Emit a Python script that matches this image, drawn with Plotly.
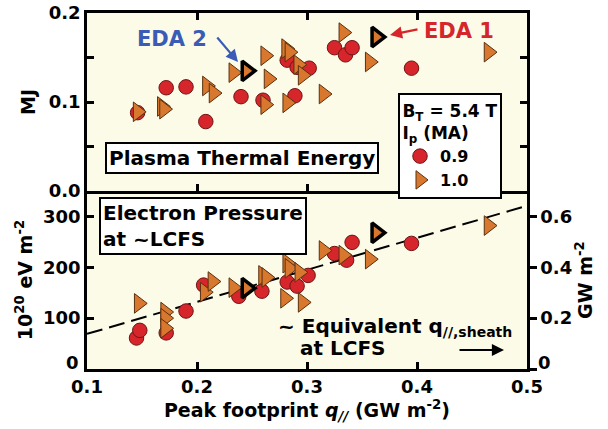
import plotly.graph_objects as go
from plotly.subplots import make_subplots

# Peak footprint q// (GW m^-2) vs plasma thermal energy (MJ)
q_mj_09 = [0.146, 0.172, 0.190, 0.208, 0.240, 0.260, 0.282, 0.289, 0.291, 0.302, 0.325, 0.335, 0.341, 0.395]
mj_09 = [0.088, 0.116, 0.117, 0.078, 0.106, 0.102, 0.147, 0.107, 0.139, 0.138, 0.161, 0.153, 0.161, 0.138]
q_mj_10 = [0.146, 0.168, 0.170, 0.209, 0.215, 0.233, 0.262, 0.265, 0.262, 0.282, 0.281, 0.284,
           0.292, 0.296, 0.315, 0.333, 0.357, 0.465]
mj_10 = [0.089, 0.095, 0.092, 0.118, 0.110, 0.133, 0.152, 0.126, 0.097, 0.099, 0.160, 0.156,
         0.142, 0.130, 0.109, 0.178, 0.145, 0.156]

# Peak footprint q// vs electron pressure at ~LCFS (1e20 eV m^-2)
q_pe_09 = [0.145, 0.148, 0.172, 0.190, 0.206, 0.238, 0.259, 0.282, 0.291, 0.301, 0.325, 0.336, 0.341, 0.395]
pe_09 = [61, 76, 71, 114, 165, 143, 153, 171, 163, 184, 227, 214, 249, 247]
q_pe_10 = [0.147, 0.171, 0.171, 0.171, 0.207, 0.214, 0.233, 0.260, 0.263, 0.282, 0.284, 0.293,
           0.280, 0.296, 0.315, 0.333, 0.357, 0.465]
pe_10 = [129, 112, 100, 80, 151, 172, 160, 184, 180, 208, 198, 190, 139, 131, 233, 224, 216, 282]

# EDA H-mode discharges (1.0 MA)
eda_labels = ["EDA 2", "EDA 1"]
eda_q = [0.245, 0.363]
eda_mj = [0.135, 0.173]
eda_pe = [159, 268]

# Linear trend of pressure with q//
fit_intercept = 6.0
fit_slope = 630.0
fit_q = [0.1, 0.5]

# Pressure units per GW m^-2 on the right-hand axis
PE_PER_GW = 500.0

x_ticks = [0.1, 0.2, 0.3, 0.4, 0.5]
mj_ticks = [0.0, 0.05, 0.1, 0.15, 0.2]
mj_tick_text = ["0.0", "", "0.1", "", "0.2"]
pe_ticks = [0, 100, 200, 300]
pe_tick_text = ["", "100", "200", "300"]   # zero label is set slightly higher, below
gw_ticks = [0, 0.2, 0.4, 0.6]
gw_tick_text = ["", "0.2", "0.4", "0.6"]

RED = "#d6262c"
RED_EDGE = "#6e1414"
ORANGE = "#d8782e"
ORANGE_EDGE = "#5a3010"
BLUE = "#3a5cb6"
BG = "#fbfbe8"
FONT = "DejaVu Sans, Verdana, sans-serif"

fig = make_subplots(rows=2, cols=1, shared_xaxes=True, vertical_spacing=0,
                    specs=[[{}], [{"secondary_y": True}]])

circle = dict(symbol="circle", size=14.5, color=RED, line=dict(color=RED_EDGE, width=1))
tri = dict(symbol="triangle-right", size=17, color=ORANGE, line=dict(color=ORANGE_EDGE, width=1))
tri_eda = dict(symbol="triangle-right", size=17, color=ORANGE, line=dict(color="black", width=3.5))

# top panel
fig.add_trace(go.Scatter(x=q_mj_09, y=mj_09, mode="markers", marker=circle, name="0.9"),
              row=1, col=1)
fig.add_trace(go.Scatter(x=q_mj_10, y=mj_10, mode="markers", marker=tri, name="1.0"),
              row=1, col=1)
fig.add_trace(go.Scatter(x=eda_q, y=eda_mj, mode="markers", marker=tri_eda, showlegend=False,
                         text=eda_labels), row=1, col=1)

# bottom panel
fit_pe = [fit_intercept + fit_slope * q for q in fit_q]
fig.add_trace(go.Scatter(x=fit_q, y=fit_pe, mode="lines", showlegend=False,
                         line=dict(color="black", width=2, dash="16px,7px")),
              row=2, col=1, secondary_y=False)
fig.add_trace(go.Scatter(x=q_pe_09, y=pe_09, mode="markers", marker=circle, showlegend=False),
              row=2, col=1, secondary_y=False)
fig.add_trace(go.Scatter(x=q_pe_10, y=pe_10, mode="markers", marker=tri, showlegend=False),
              row=2, col=1, secondary_y=False)
fig.add_trace(go.Scatter(x=eda_q, y=eda_pe, mode="markers", marker=tri_eda, showlegend=False,
                         text=eda_labels), row=2, col=1, secondary_y=False)
# same trend expressed as equivalent sheath heat flux (GW m^-2) on the right axis
fig.add_trace(go.Scatter(x=fit_q, y=[p / PE_PER_GW for p in fit_pe], mode="lines",
                         showlegend=False, hoverinfo="skip", opacity=0,
                         line=dict(color="black", width=0)),
              row=2, col=1, secondary_y=True)

PE_MAX = 350
ax_common = dict(showline=True, linecolor="black", linewidth=2.5, ticklen=7, tickwidth=2.5,
                 tickcolor="black", showgrid=False, zeroline=False, automargin=False,
                 tickfont=dict(size=18))

fig.update_xaxes(range=[0.1, 0.5], domain=[0, 1], tickvals=x_ticks, ticks="inside", **ax_common)
fig.update_xaxes(showticklabels=False, mirror="ticks", row=1, col=1)
fig.update_xaxes(tickformat=".1f", mirror=False, row=2, col=1,
                 title=dict(text="Peak footprint <i>q<sub>//</sub></i> (GW m<sup>-2</sup>)",
                            standoff=8, font=dict(size=19)))

fig.update_yaxes(range=[0, 0.2], tickvals=mj_ticks, ticktext=mj_tick_text, ticks="inside",
                 mirror="ticks", title=dict(text="MJ", standoff=9, font=dict(size=19)),
                 row=1, col=1, **ax_common)
fig.update_yaxes(range=[0, PE_MAX], tickvals=pe_ticks, ticktext=pe_tick_text, ticks="inside",
                 mirror=False,
                 title=dict(text="10<sup>20</sup> eV m<sup>-2</sup>", standoff=6, font=dict(size=19)),
                 row=2, col=1, secondary_y=False, **ax_common)
fig.update_yaxes(range=[0, PE_MAX / PE_PER_GW], tickvals=gw_ticks, ticktext=gw_tick_text,
                 ticks="outside", visible=True, showticklabels=True,
                 title=dict(text="GW m<sup>-2</sup>", standoff=5, font=dict(size=19)),
                 row=2, col=1, secondary_y=True, **ax_common)

ML, MR, MT, MB = 87, 81, 13, 60
W, H = 608, 429
PW, PH = W - ML - MR, H - MT - MB


def px(x, y):
    return (x - ML) / PW, (H - MB - y) / PH


def note(text, x, y, size=20, color="black", xanchor="center", yanchor="middle", **kw):
    ax_, ay_ = px(x, y)
    base = dict(text=text, x=ax_, y=ay_, xref="paper", yref="paper", showarrow=False,
                xanchor=xanchor, yanchor=yanchor,
                font=dict(family=FONT, size=size, color=color, weight="bold"))
    base.update(kw)
    fig.add_annotation(**base)


note("Plasma Thermal Energy", 242, 158, bgcolor="white", bordercolor="black", borderwidth=2,
     borderpad=2)
note("Electron Pressure<br>at ~LCFS", 99, 197, xanchor="left", yanchor="top", align="left",
     bgcolor="white", bordercolor="black", borderwidth=2, borderpad=2)
note("~ Equivalent q<sub>//,sheath</sub>", 276, 327, xanchor="left")
note("at LCFS", 298, 348, xanchor="left")
note("EDA 2", 172, 39, size=21, color=BLUE)
note("EDA 1", 459, 31, size=21, color=RED)
# zero labels of the lower panel, lifted clear of the x tick labels
note("0", 81, 362, size=18, xanchor="right")
note("0", 536, 362, size=18, xanchor="left")

# arrows
for (hx, hy, tx, ty, col) in [(238, 62, 216, 36, BLUE), (390, 35, 419, 29, RED),
                              (504, 350, 458, 350, "black")]:
    hxp, hyp = px(hx, hy)
    fig.add_annotation(x=hxp, y=hyp, xref="paper", yref="paper", text="", showarrow=True,
                       ax=tx - hx, ay=ty - hy, arrowhead=2, arrowsize=1.1, arrowwidth=2.2,
                       arrowcolor=col)

lx, ly = px(398, 93)
fig.update_layout(
    width=W, height=H,
    margin=dict(l=ML, r=MR, t=MT, b=MB, autoexpand=False),
    paper_bgcolor="white", plot_bgcolor=BG,
    font=dict(family=FONT, size=18, color="black", weight="bold"),
    legend=dict(x=lx, y=ly, xanchor="left", yanchor="top", bgcolor="white",
                bordercolor="black", borderwidth=2, tracegroupgap=0,
                font=dict(size=16), itemwidth=30,
                title=dict(text="B<sub>T</sub> = 5.4 T<br>I<sub>p</sub> (MA)", side="top center",
                           font=dict(size=17))),
)

fig.write_html("out.html")
